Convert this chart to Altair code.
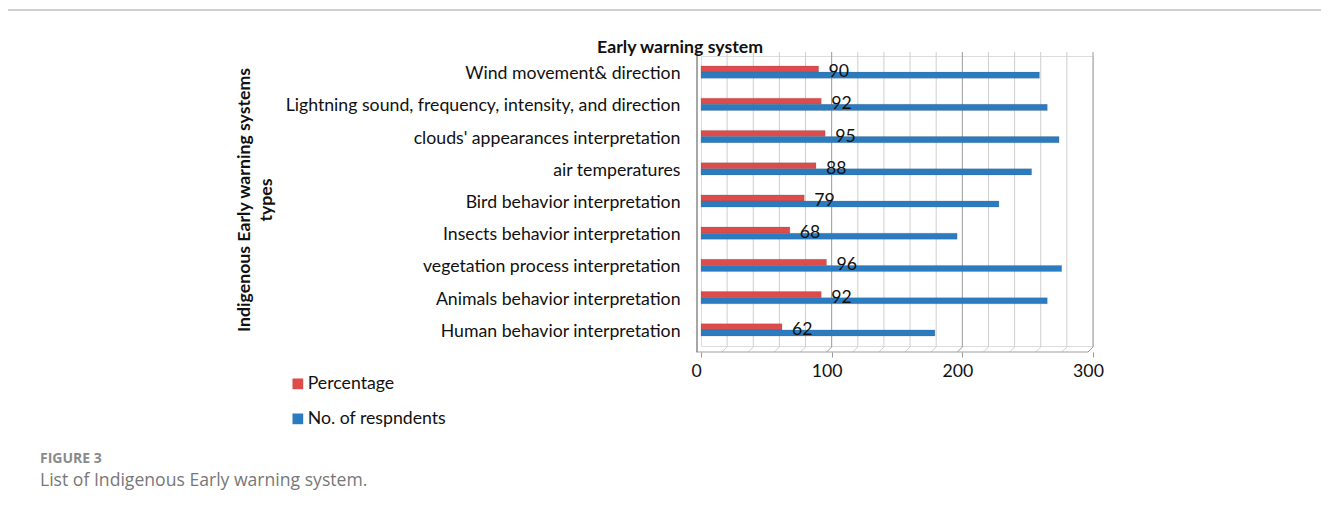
import altair as alt
import pandas as pd

categories = [
    "Wind movement& direction\u00a0",
    "Lightning sound, frequency, intensity, and direction",
    "clouds' appearances interpretation",
    "air temperatures\u00a0",
    "Bird behavior interpretation",
    "Insects behavior interpretation",
    "vegetation process interpretation",
    "Animals behavior interpretation",
    "Human behavior interpretation",
]
percentage = [90, 92, 95, 88, 79, 68, 96, 92, 62]
respondents = [259, 265, 274, 253, 228, 196, 276, 265, 179]
series_names = ["Percentage", "No. of respndents"]
series_colors = ["#DE4B4B", "#2B7BC0"]
grid_values = list(range(20, 301, 20))
x_ticks = [0, 100, 200, 300]

W, H = 392, 290
PL, PT = 693, 48
FONT = "Lato"
FS = 17.7

rows = []
for c, p, r in zip(categories, percentage, respondents):
    rows.append({"category": c, "series": series_names[0], "value": p})
    rows.append({"category": c, "series": series_names[1], "value": r})
df = pd.DataFrame(rows)
grid_df = pd.DataFrame({"g": grid_values})

xscale = alt.Scale(domain=[0, 300], nice=False, zero=True)

# frame lines
frame_top = alt.Chart(pd.DataFrame({"a": [0]})).mark_rule(color="#d0d0d0", strokeWidth=2).encode(
    x=alt.value(-694), x2=alt.value(W + 700), y=alt.value(-46)
)
frame_left = alt.Chart(pd.DataFrame({"a": [0]})).mark_rule(color="#d0d0d0", strokeWidth=2).encode(
    x=alt.value(-694), y=alt.value(-46), y2=alt.value(H + 200)
)

grid = alt.Chart(grid_df).mark_rule(strokeWidth=1).encode(
    x=alt.X("g:Q", scale=xscale),
    y=alt.value(-4),
    y2=alt.value(H + 1),
    color=alt.condition("datum.g % 100 == 0", alt.value("#9a9a9a"), alt.value("#cfcfcf")),
)
grid_diag = alt.Chart(grid_df).mark_rule(strokeWidth=1, x2Offset=-5).encode(
    x=alt.X("g:Q", scale=xscale),
    x2=alt.X2("g:Q"),
    y=alt.value(H + 1),
    y2=alt.value(H + 6),
    color=alt.condition("datum.g % 100 == 0", alt.value("#9a9a9a"), alt.value("#cfcfcf")),
)
floor = alt.Chart(pd.DataFrame({"a": [0]})).mark_rule(color="#a0a0a0", strokeWidth=1.2).encode(
    x=alt.value(-5), x2=alt.value(W - 5), y=alt.value(H + 6)
)
left_axis = alt.Chart(pd.DataFrame({"a": [0]})).mark_rule(color="#8a8a8a", strokeWidth=1.5).encode(
    x=alt.value(-4), y=alt.value(-4), y2=alt.value(H + 6)
)

bars = alt.Chart(df).mark_bar(strokeWidth=0.6, stroke="#555555", strokeOpacity=0.35).encode(
    y=alt.Y(
        "category:N",
        sort=categories,
        scale=alt.Scale(paddingInner=0.62, paddingOuter=0.31),
        axis=alt.Axis(
            title=None, ticks=False, domain=False, labelFont=FONT, labelFontSize=FS,
            labelColor="#111111", labelPadding=21, labelOffset=2, labelLimit=1000,
        ),
    ),
    x=alt.X(
        "value:Q",
        scale=xscale,
        axis=alt.Axis(
            values=x_ticks, title=None, grid=False, domain=False, ticks=True, tickSize=5,
            tickColor="#999999", labelOffset=-5, offset=6, labelFont=FONT, labelFontSize=FS,
            labelColor="#111111", labelPadding=5, labelFlush=False,
        ),
    ),
    yOffset=alt.YOffset("series:N", sort=series_names, scale=alt.Scale(paddingInner=0, paddingOuter=0)),
    color=alt.Color(
        "series:N",
        scale=alt.Scale(domain=series_names, range=series_colors),
        sort=series_names,
        legend=alt.Legend(
            title=None, orient="none", legendX=-412, legendY=319, symbolType="square",
            symbolSize=115, symbolStrokeWidth=0, labelFont=FONT, labelFontSize=FS,
            labelColor="#111111", rowPadding=16, labelOffset=1,
        ),
    ),
)

labels = alt.Chart(df[df["series"] == series_names[0]]).mark_text(
    align="left", baseline="middle", dx=10, dy=0, font=FONT, fontSize=FS, color="#111111"
).encode(
    y=alt.Y("category:N", sort=categories),
    x=alt.X("value:Q", scale=xscale),
    text=alt.Text("value:Q"),
)

title_df = pd.DataFrame({"t": ["Early warning system"]})
title = alt.Chart(title_df).mark_text(
    font=FONT, fontSize=FS, fontWeight="bold", color="#111111", align="center", baseline="middle"
).encode(x=alt.value(-21), y=alt.value(-8), text="t:N")

ytitle1 = alt.Chart(pd.DataFrame({"t": ["Indigenous Early warning systems"]})).mark_text(
    font=FONT, fontSize=FS, fontWeight="bold", color="#111111", align="center", baseline="middle", angle=270
).encode(x=alt.value(-456), y=alt.value(144), text="t:N")
ytitle2 = alt.Chart(pd.DataFrame({"t": ["types"]})).mark_text(
    font=FONT, fontSize=FS, fontWeight="bold", color="#111111", align="center", baseline="middle", angle=270
).encode(x=alt.value(-434), y=alt.value(144), text="t:N")

cap1 = alt.Chart(pd.DataFrame({"t": ["FIGURE 3"]})).mark_text(
    font="Open Sans", fontSize=14, fontWeight="bold", color="#8a8a8a", align="left", baseline="middle"
).encode(x=alt.value(-661), y=alt.value(403), text="t:N")
cap2 = alt.Chart(pd.DataFrame({"t": ["List of Indigenous Early warning system."]})).mark_text(
    font="Open Sans", fontSize=17.6, color="#777777", align="left", baseline="middle"
).encode(x=alt.value(-661), y=alt.value(425), text="t:N")

chart = alt.layer(
    frame_top, frame_left, grid, grid_diag, floor, left_axis, bars, labels,
    title, ytitle1, ytitle2, cap1, cap2,
).properties(
    width=W, height=H,
    autosize=alt.AutoSizeParams(type="none"),
    padding={"left": PL, "top": PT, "right": 228, "bottom": 150},
).configure_view(stroke=None).configure(background="white")

chart.save("out.html", embed_options={"renderer": "svg", "actions": False})
